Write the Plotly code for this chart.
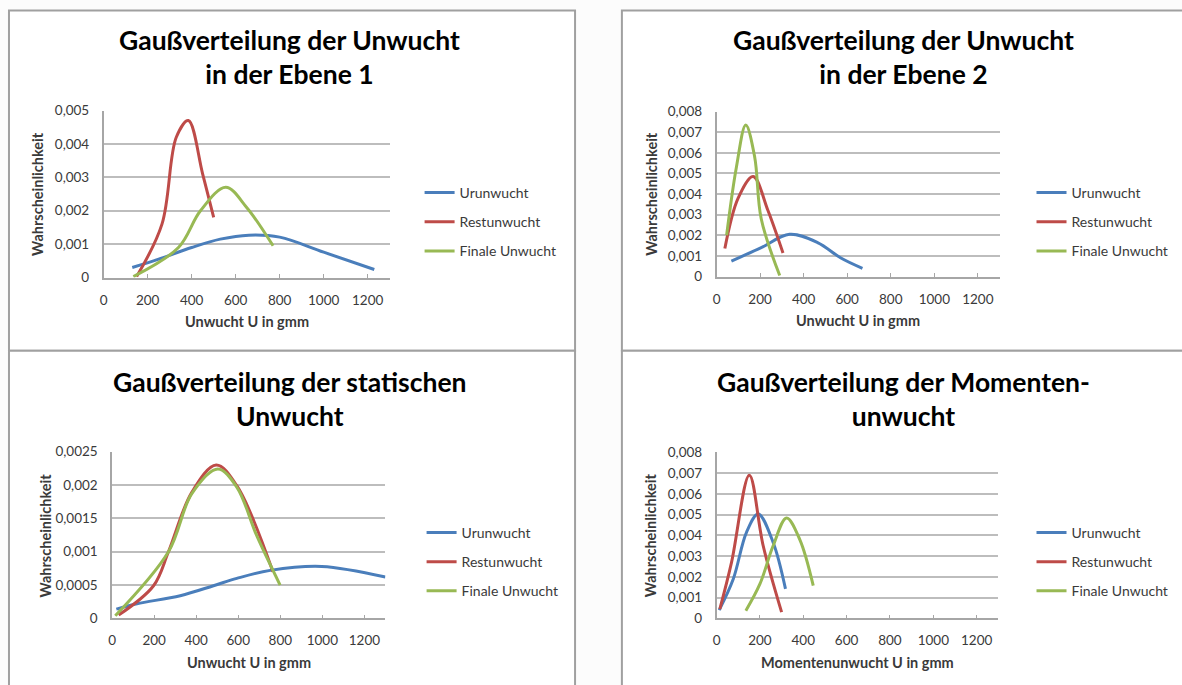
import plotly.graph_objects as go

# ---- Ebene 1 ----
e1_ur_x = [130, 250, 400, 530, 660, 800, 1000, 1230]
e1_ur_y = [0.0003, 0.00055, 0.0009, 0.00115, 0.00127, 0.00121, 0.00076, 0.00024]
e1_rest_x = [150, 265, 330, 385, 450, 500]
e1_rest_y = [0.00003, 0.0016, 0.0042, 0.0047, 0.0031, 0.0018]
e1_fin_x = [135, 340, 440, 555, 650, 770]
e1_fin_y = [0.00003, 0.0009, 0.0020, 0.0027, 0.0021, 0.00095]

# ---- Ebene 2 ----
e2_ur_x = [68, 205, 335, 464, 571, 670]
e2_ur_y = [0.00075, 0.0014, 0.00205, 0.00165, 0.0009, 0.0004]
e2_rest_x = [38, 99, 168, 236, 305]
e2_rest_y = [0.00136, 0.0038, 0.00485, 0.0032, 0.00114]
e2_fin_x = [46, 91, 134, 175, 205, 290]
e2_fin_y = [0.002, 0.0053, 0.00735, 0.0058, 0.0028, 0.00005]

# ---- statische Unwucht ----
st_ur_x = [20, 118, 324, 482, 593, 752, 997, 1300]
st_ur_y = [0.00014, 0.00022, 0.00034, 0.00049, 0.0006, 0.00072, 0.00078, 0.00062]
st_rest_x = [31, 197, 268, 379, 495, 593, 765]
st_rest_y = [0.00005, 0.00049, 0.001, 0.00189, 0.0023, 0.00199, 0.0007]
st_fin_x = [15, 268, 379, 503, 593, 688, 799]
st_fin_y = [0.00004, 0.001, 0.00187, 0.00224, 0.00197, 0.00124, 0.0005]

# ---- Momentenunwucht ----
mo_ur_x = [12, 77, 138, 192, 261, 318]
mo_ur_y = [0.0004, 0.0019, 0.00415, 0.00503, 0.00366, 0.00142]
mo_rest_x = [15, 69, 151, 215, 300]
mo_rest_y = [0.00045, 0.0027, 0.0069, 0.0035, 0.0003]
mo_fin_x = [135, 200, 261, 323, 384, 446]
mo_fin_y = [0.00037, 0.00166, 0.0035, 0.00484, 0.0038, 0.00158]

series_names = ["Urunwucht", "Restunwucht", "Finale Unwucht"]
series_colors = ["#4A7EBB", "#BE4B48", "#98B954"]

titles = [
    "Gaußverteilung der Unwucht<br>in der Ebene 1",
    "Gaußverteilung der Unwucht<br>in der Ebene 2",
    "Gaußverteilung der statischen<br>Unwucht",
    "Gaußverteilung der Momenten-<br>unwucht",
]
x_titles = ["Unwucht U in gmm", "Unwucht U in gmm", "Unwucht U in gmm", "Momentenunwucht U in gmm"]
y_title = "Wahrscheinlichkeit"
y_max = [0.005, 0.008, 0.0025, 0.008]
y_step = [0.001, 0.001, 0.0005, 0.001]
x_max = 1300
x_step = 200

panels = [
    [(e1_ur_x, e1_ur_y), (e1_rest_x, e1_rest_y), (e1_fin_x, e1_fin_y)],
    [(e2_ur_x, e2_ur_y), (e2_rest_x, e2_rest_y), (e2_fin_x, e2_fin_y)],
    [(st_ur_x, st_ur_y), (st_rest_x, st_rest_y), (st_fin_x, st_fin_y)],
    [(mo_ur_x, mo_ur_y), (mo_rest_x, mo_rest_y), (mo_fin_x, mo_fin_y)],
]

W, H = 1182, 685

def px_x(v):
    return v / W

def px_y(v):
    return 1 - v / H

# plot-area rectangles in pixels: left, right, top, bottom
areas = [
    (100, 387, 105, 276),
    (715, 999, 106, 275),
    (108.5, 382.7, 454.3, 625),
    (715, 997.7, 455, 625),
]
# panel frames in pixels
frames = [
    (5, 573, 2.5, 351),
    (620, 1190, 2.5, 351),
    (5, 573, 351, 700),
    (620, 1190, 351, 700),
]
title_pos = [(286, 50.6), (903, 50.6), (287, 400), (903, 400)]
legend_pos = [(417, 173), (1031, 173), (419, 521), (1031, 521)]
ytitle_offset = [67, 66, 67, 66]

FONT = "Lato"
TXT = "#3A3A3A"
GRID = "#BDBDBD"

fig = go.Figure()
layout = dict(
    width=W, height=H,
    margin=dict(l=0, r=0, t=0, b=0),
    paper_bgcolor="#FCFCFC",
    plot_bgcolor="white",
    separators=",.",
    font=dict(family=FONT, size=13, color=TXT),
    shapes=[], annotations=[],
)

for i, data in enumerate(panels):
    n = "" if i == 0 else str(i + 1)
    leg = "legend" + n
    for j, (xs, ys) in enumerate(data):
        fig.add_trace(go.Scatter(
            x=xs, y=ys, mode="lines", name=series_names[j],
            line=dict(color=series_colors[j], width=3, shape="spline", smoothing=1),
            xaxis="x" + n, yaxis="y" + n, legend=leg,
            legendgroup=f"p{i}s{j}", cliponaxis=True,
        ))
    l, r, t, b = areas[i]
    layout["xaxis" + n] = dict(
        domain=[px_x(l), px_x(r)], anchor="y" + n, range=[0, x_max],
        tick0=0, dtick=x_step, showgrid=False, zeroline=False,
        showline=True, linecolor="#A6A6A6", linewidth=1.5,
        ticks="inside", ticklen=4, tickcolor="#A6A6A6",
        ticklabelstandoff=9,
        tickfont=dict(family=FONT, size=13.5, color=TXT),
        fixedrange=True,
    )
    layout["yaxis" + n] = dict(
        domain=[px_y(b), px_y(t)], anchor="x" + n, range=[0, y_max[i]],
        tick0=0, dtick=y_step[i], showgrid=True, gridcolor=GRID, gridwidth=1.5,
        zeroline=False, showline=True, linecolor="#A6A6A6", linewidth=1.5,
        exponentformat="none", ticklabelstandoff=10,
        tickfont=dict(family=FONT, size=13.5, color=TXT),
        fixedrange=True,
    )
    lx, ly = legend_pos[i]
    layout[leg] = dict(
        x=px_x(lx), y=px_y(ly), xanchor="left", yanchor="top",
        bgcolor="rgba(0,0,0,0)", font=dict(family=FONT, size=14, color=TXT),
        itemwidth=30, tracegroupgap=8, traceorder="grouped",
    )
    fl, fr, ft, fb = frames[i]
    layout["shapes"].append(dict(
        type="rect", xref="paper", yref="paper",
        x0=px_x(fl), x1=px_x(fr), y0=px_y(fb), y1=px_y(ft),
        line=dict(color="#A0A0A0", width=2), fillcolor="white", layer="below",
    ))
    tx, ty = title_pos[i]
    layout["annotations"].append(dict(
        text=f"<b>{titles[i]}</b>", xref="paper", yref="paper",
        x=px_x(tx), y=px_y(ty), xanchor="center", yanchor="middle",
        showarrow=False, font=dict(family=FONT, size=26.5, color="black"),
    ))
    layout["annotations"].append(dict(
        text=f"<b>{x_titles[i]}</b>", xref="paper", yref="paper",
        x=px_x((l + r) / 2), y=px_y(b + 45), xanchor="center", yanchor="middle",
        showarrow=False, font=dict(family=FONT, size=14.5, color=TXT),
    ))
    layout["annotations"].append(dict(
        text=f"<b>{y_title}</b>", xref="paper", yref="paper",
        x=px_x(l - ytitle_offset[i]), y=px_y((t + b) / 2), xanchor="center", yanchor="middle",
        textangle=-90, showarrow=False, font=dict(family=FONT, size=14.5, color=TXT),
    ))

fig.update_layout(**layout)
fig.write_html("out.html")
